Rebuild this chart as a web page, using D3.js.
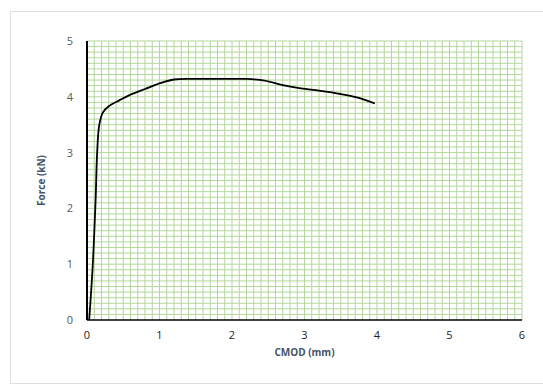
<!DOCTYPE html>
<html lang="en">
<head>
<meta charset="UTF-8">
<title>Force vs CMOD</title>
<script src="https://d3js.org/d3.v7.min.js"></script>
<style>
    body { margin: 0; background: #fff; font-family: "Open Sans", Arial, sans-serif; }
</style>
</head>
<body>
<div id="chart"></div>
<script>
    // curve
    const cmod = [0.03, 0.08, 0.12, 0.14, 0.17, 0.22, 0.3, 0.45, 0.6, 0.8, 1.0, 1.2, 1.5, 1.8, 2.2, 2.45, 2.7, 2.95, 3.2, 3.5, 3.75, 3.97];
    const force = [0, 1.0, 2.2, 3.0, 3.5, 3.72, 3.83, 3.94, 4.04, 4.14, 4.24, 4.31, 4.32, 4.32, 4.32, 4.29, 4.21, 4.15, 4.11, 4.05, 3.98, 3.88];
    const xTicks = [0, 1, 2, 3, 4, 5, 6];
    const yTicks = [0, 1, 2, 3, 4, 5];

    const W = 543, H = 385;
    const margin = { top: 41, right: 21, bottom: 65, left: 87 };

    const svg = d3.select("#chart").append("svg")
        .attr("width", W)
        .attr("height", H);

    // chart frame
    svg.append("rect")
        .attr("x", 10.5).attr("y", 11.5)
        .attr("width", 545).attr("height", 372)
        .attr("fill", "#fff")
        .attr("stroke", "#dcdfe6");

    const x = d3.scaleLinear().domain([0, 6]).range([margin.left, W - margin.right]);
    const y = d3.scaleLinear().domain([0, 5]).range([H - margin.bottom, margin.top]);

    // minor grid every 0.1
    const g = svg.append("g");
    const xs = d3.range(1, 61).map(i => i / 10);
    const ys = d3.range(1, 51).map(i => i / 10);
    g.selectAll("line.v").data(xs).enter().append("line")
        .attr("x1", d => x(d)).attr("x2", d => x(d))
        .attr("y1", y(0)).attr("y2", y(5))
        .attr("stroke", "#b3d79b").attr("stroke-width", 1);
    g.selectAll("line.h").data(ys).enter().append("line")
        .attr("x1", x(0)).attr("x2", x(6))
        .attr("y1", d => y(d)).attr("y2", d => y(d))
        .attr("stroke", "#b3d79b").attr("stroke-width", 1);

    // axes
    svg.append("line")
        .attr("x1", x(0)).attr("x2", x(6))
        .attr("y1", y(0)).attr("y2", y(0))
        .attr("stroke", "#000").attr("stroke-width", 1.5);
    svg.append("line")
        .attr("x1", x(0)).attr("x2", x(0))
        .attr("y1", y(0)).attr("y2", y(5))
        .attr("stroke", "#000").attr("stroke-width", 2);

    svg.selectAll("text.xt").data(xTicks).enter().append("text")
        .attr("x", d => x(d)).attr("y", y(0) + 19)
        .attr("text-anchor", "middle")
        .attr("font-size", 11).attr("fill", "#222")
        .text(d => d);
    svg.selectAll("text.yt").data(yTicks).enter().append("text")
        .attr("x", x(0) - 14).attr("y", d => y(d) + 4)
        .attr("text-anchor", "end")
        .attr("font-size", 11).attr("fill", "#595959")
        .text(d => d);

    svg.append("text")
        .attr("x", (x(0) + x(6)) / 2).attr("y", y(0) + 36)
        .attr("text-anchor", "middle")
        .attr("font-size", 10).attr("font-weight", "bold").attr("fill", "#44546a")
        .text("CMOD (mm)");
    svg.append("text")
        .attr("transform", `translate(45,${(y(0) + y(5)) / 2}) rotate(-90)`)
        .attr("text-anchor", "middle")
        .attr("font-size", 10).attr("font-weight", "bold").attr("fill", "#44546a")
        .text("Force (kN)");

    // curve
    const pts = cmod.map((c, i) => [c, force[i]]);
    svg.append("path")
        .datum(pts)
        .attr("d", d3.line().x(d => x(d[0])).y(d => y(d[1])).curve(d3.curveCatmullRom))
        .attr("fill", "none")
        .attr("stroke", "#000")
        .attr("stroke-width", 1.8);
</script>
</body>
</html>
